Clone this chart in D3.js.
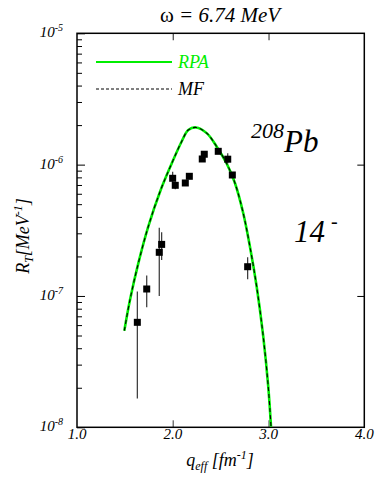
<!DOCTYPE html>
<html>
<head>
<meta charset="utf-8">
<script src="https://cdn.jsdelivr.net/npm/d3@7"></script>
<style>
  body { margin: 0; background: #fff; }
  svg text { font-family: "Liberation Serif", "Times New Roman", serif; }
</style>
</head>
<body>
<div id="chart"></div>
<script>
// RPA / MF curve (q in fm^-1, R in MeV^-1)
var curveQ = [1.494, 1.553, 1.640, 1.744, 1.867, 1.989, 2.093, 2.162, 2.243,
  2.357, 2.459, 2.563, 2.650, 2.736, 2.806, 2.876, 2.945, 2.997, 3.026];
var curveR = [5.44e-8, 9.32e-8, 1.77e-7, 3.37e-7, 6.22e-7, 1.02e-6, 1.50e-6, 1.835e-6, 1.92e-6,
  1.73e-6, 1.37e-6, 1.02e-6, 7.21e-7, 4.26e-7, 2.37e-7, 1.18e-7, 4.9e-8, 2.04e-8, 1.01e-8];

// experimental points
var expQ = [1.630, 1.728, 1.859, 1.884, 1.999, 2.026, 2.131, 2.173, 2.308, 2.329, 2.475, 2.574, 2.622, 2.782];
var expR = [6.30e-8, 1.13e-7, 2.15e-7, 2.47e-7, 7.87e-7, 6.96e-7, 7.25e-7, 8.15e-7, 1.104e-6, 1.20e-6, 1.263e-6, 1.10e-6, 8.34e-7, 1.67e-7];
var errHi = [1.08e-7, 1.43e-7, 3.31e-7, 3.05e-7, 8.83e-7, 7.41e-7, 7.45e-7, 8.4e-7, 1.13e-6, 1.23e-6, 1.29e-6, 1.22e-6, 8.6e-7, 1.97e-7];
var errLo = [1.66e-8, 8.2e-8, 1.0e-7, 1.88e-7, 7.2e-7, 6.49e-7, 7.05e-7, 7.9e-7, 1.08e-6, 1.17e-6, 1.24e-6, 1.02e-6, 8.1e-7, 1.34e-7];

var xTicks = [1, 2, 3, 4];
var xTickLabels = ["1.0", "2.0", "3.0", "4.0"];
var yDecades = [1e-8, 1e-7, 1e-6, 1e-5];
var yExponents = ["-8", "-7", "-6", "-5"];

var width = 377, height = 481;
var margin = {left: 77, right: 12.7, top: 33.3, bottom: 53.7};

var svg = d3.select("#chart").append("svg")
    .attr("width", width)
    .attr("height", height);

var x = d3.scaleLinear().domain([1, 4]).range([margin.left, width - margin.right]);
var y = d3.scaleLog().domain([1e-8, 1e-5]).range([height - margin.bottom, margin.top]);

// minor log ticks
var minorTicks = [];
[1e-8, 1e-7, 1e-6].forEach(function(d) {
  for (var k = 2; k <= 9; k++) minorTicks.push(d * k);
});

svg.append("clipPath").attr("id", "plotclip")
  .append("rect")
  .attr("x", x(1)).attr("y", y(1e-5))
  .attr("width", x(4) - x(1)).attr("height", y(1e-8) - y(1e-5));

// ticks
var gLeftMinor = svg.append("g")
    .attr("transform", "translate(" + x(1) + ",0)")
    .call(d3.axisLeft(y).tickValues(minorTicks).tickSize(-5).tickFormat(""));
var gLeftMajor = svg.append("g")
    .attr("transform", "translate(" + x(1) + ",0)")
    .call(d3.axisLeft(y).tickValues(yDecades).tickSize(-8).tickFormat(""));
var gRight = svg.append("g")
    .attr("transform", "translate(" + x(4) + ",0)")
    .call(d3.axisRight(y).tickValues([1e-7, 1e-6]).tickSize(-7).tickFormat(""));
var gTop = svg.append("g")
    .attr("transform", "translate(0," + y(1e-5) + ")")
    .call(d3.axisTop(x).tickValues([2, 3]).tickSize(-7).tickFormat(""));
var gBottom = svg.append("g")
    .attr("transform", "translate(0," + y(1e-8) + ")")
    .call(d3.axisBottom(x).tickValues([2, 3]).tickSize(-7).tickFormat(""));

[gLeftMinor, gLeftMajor, gRight, gTop, gBottom].forEach(function(g) {
  g.select(".domain").remove();
  g.selectAll(".tick line").attr("stroke", "#000").attr("stroke-width", 1);
});
gBottom.selectAll(".tick line").attr("stroke", "#777").attr("stroke-width", 1.5);
gTop.selectAll(".tick line").attr("stroke", "#444").attr("stroke-width", 1.2);

// frame
svg.append("rect")
  .attr("x", x(1)).attr("y", y(1e-5))
  .attr("width", x(4) - x(1)).attr("height", y(1e-8) - y(1e-5))
  .attr("fill", "none").attr("stroke", "#000").attr("stroke-width", 1.5);

// x tick labels
svg.selectAll("text.xlab")
  .data(xTicks)
  .enter()
  .append("text")
  .attr("class", "xlab")
  .attr("x", function(d) { return x(d); })
  .attr("y", y(1e-8) + 12)
  .attr("text-anchor", "middle")
  .attr("font-size", 15)
  .attr("font-style", "italic")
  .text(function(d, i) { return xTickLabels[i]; });

// y tick labels 10^n
var ylab = svg.selectAll("text.ylab")
  .data(yDecades)
  .enter()
  .append("text")
  .attr("class", "ylab")
  .attr("x", x(1) - 14)
  .attr("y", function(d) { return y(d) + 4; })
  .attr("text-anchor", "end")
  .attr("font-size", 15)
  .attr("font-style", "italic");
ylab.append("tspan").text("10");
ylab.append("tspan")
  .attr("dy", -6)
  .attr("font-size", 10)
  .text(function(d, i) { return yExponents[i]; });

// curves
var line = d3.line()
  .x(function(d, i) { return x(curveQ[i]); })
  .y(function(d, i) { return y(curveR[i]); })
  .curve(d3.curveCatmullRom);

var plot = svg.append("g").attr("clip-path", "url(#plotclip)");
plot.append("path")
  .attr("d", line(curveQ))
  .attr("fill", "none")
  .attr("stroke", "#00ee00")
  .attr("stroke-width", 2.6);
plot.append("path")
  .attr("d", line(curveQ))
  .attr("fill", "none")
  .attr("stroke", "#000")
  .attr("stroke-width", 1.1)
  .attr("stroke-dasharray", "4,3");

// error bars
plot.selectAll("line.err")
  .data(expQ)
  .enter()
  .append("line")
  .attr("class", "err")
  .attr("x1", function(d) { return x(d); })
  .attr("x2", function(d) { return x(d); })
  .attr("y1", function(d, i) { return y(errHi[i]); })
  .attr("y2", function(d, i) { return y(errLo[i]); })
  .attr("stroke", "#333")
  .attr("stroke-width", 1.2);

// markers
var ms = 7;
plot.selectAll("rect.pt")
  .data(expQ)
  .enter()
  .append("rect")
  .attr("class", "pt")
  .attr("x", function(d) { return x(d) - ms / 2; })
  .attr("y", function(d, i) { return y(expR[i]) - ms / 2; })
  .attr("width", ms)
  .attr("height", ms)
  .attr("fill", "#000");

// legend
var legend = svg.append("g");
legend.append("line")
  .attr("x1", 96).attr("x2", 172).attr("y1", 62).attr("y2", 62)
  .attr("stroke", "#00ee00").attr("stroke-width", 2.2);
legend.append("text")
  .attr("x", 178).attr("y", 68)
  .attr("font-size", 18).attr("font-style", "italic")
  .attr("fill", "#00ee00")
  .text("RPA");
legend.append("line")
  .attr("x1", 96).attr("x2", 172).attr("y1", 89).attr("y2", 89)
  .attr("stroke", "#000").attr("stroke-width", 1)
  .attr("stroke-dasharray", "3,2");
legend.append("text")
  .attr("x", 178).attr("y", 95)
  .attr("font-size", 18).attr("font-style", "italic")
  .text("MF");

// title
var title = svg.append("text")
  .attr("x", 220).attr("y", 22)
  .attr("text-anchor", "middle")
  .attr("font-size", 21);
title.append("tspan").text("ω ");
title.append("tspan").attr("font-style", "italic").text("= 6.74 MeV");

// annotations
var pb = svg.append("text")
  .attr("x", 251).attr("y", 152)
  .attr("font-style", "italic");
pb.append("tspan").attr("font-size", 22).attr("dy", -14).text("208");
pb.append("tspan").attr("font-size", 31).attr("dy", 14).text("Pb");

var jp = svg.append("text")
  .attr("x", 294).attr("y", 242)
  .attr("font-style", "italic");
jp.append("tspan").attr("font-size", 31).text("14");
jp.append("tspan").attr("font-size", 20).attr("dx", 6).attr("dy", -14).text("-");

// axis titles
var xt = svg.append("text")
  .attr("x", 220).attr("y", 466)
  .attr("text-anchor", "middle")
  .attr("font-size", 18)
  .attr("font-style", "italic");
xt.append("tspan").text("q");
xt.append("tspan").attr("font-size", 12).attr("dy", 4).text("eff");
xt.append("tspan").attr("dy", -4).text(" [fm");
xt.append("tspan").attr("font-size", 12).attr("dy", -7).text("-1");
xt.append("tspan").attr("dy", 7).text("]");

var yt = svg.append("text")
  .attr("transform", "translate(29,236) rotate(-90)")
  .attr("text-anchor", "middle")
  .attr("font-size", 18)
  .attr("font-style", "italic");
yt.append("tspan").text("R");
yt.append("tspan").attr("font-size", 12).attr("dy", 4).text("T");
yt.append("tspan").attr("dy", -4).text("[MeV");
yt.append("tspan").attr("font-size", 12).attr("dy", -7).text("-1");
yt.append("tspan").attr("dy", 7).text("]");
</script>
</body>
</html>
